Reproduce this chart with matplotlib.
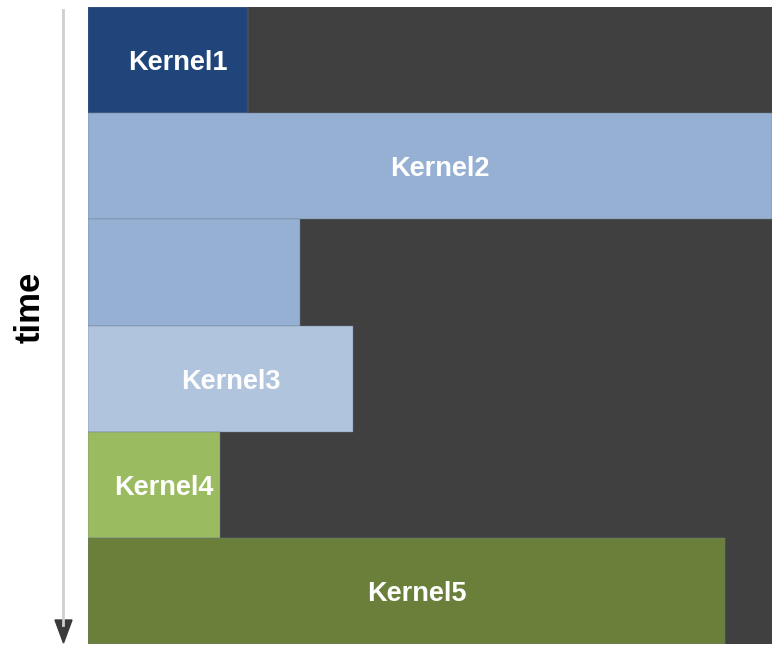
import matplotlib.pyplot as plt
from matplotlib.patches import Polygon
from matplotlib.lines import Line2D

# rows from top to bottom, widths as fraction of the full span
labels = ["Kernel1", "Kernel2", "", "Kernel3", "Kernel4", "Kernel5"]
widths = [0.234, 1.0, 0.31, 0.387, 0.193, 0.931]
colors = ["#1f457b", "#95b0d3", "#95b0d3", "#b0c4de", "#9bbb61", "#6a7f3a"]

W, H = 772, 645
fig = plt.figure(figsize=(W / 100, H / 100), dpi=100)
ax = fig.add_axes([88 / W, 1 / H, 1 - 88 / W, 637 / H])
ax.set_facecolor("#404040")

rows = list(range(len(widths)))
ax.barh(rows, widths, height=1.0, color=colors, edgecolor="#6d7c8f",
        linewidth=0.3)
ax.set_xlim(0, 1)
ax.set_ylim(len(widths) - 0.5, -0.5)
ax.axis("off")
ax.add_patch(plt.Rectangle((0, -0.5), 1, len(widths), color="#404040",
                           zorder=0))

for r, w, lab in zip(rows, widths, labels):
    if lab:
        ax.text(w / 2 + 0.015, r + 0.03, lab, ha="center", va="center",
                color="white", fontsize=19.5, fontweight="bold",
                family="Liberation Sans")

# time arrow on the left
fig.add_artist(Line2D([63 / W, 63 / W], [1 - 10 / H, 1 - 625 / H],
                      color="#cfcfcf", lw=2, transform=fig.transFigure))
fig.add_artist(Polygon([[55 / W, 1 - 620 / H], [72 / W, 1 - 620 / H],
                        [63.5 / W, 1 - 643 / H]], closed=True,
                       color="#3a3a3a", transform=fig.transFigure))
fig.text(30 / W, 1 - 307 / H, "time", rotation=90, ha="center", va="center",
         fontsize=25, fontweight="bold", family="Liberation Sans")

fig.savefig("out.png", dpi=100)
